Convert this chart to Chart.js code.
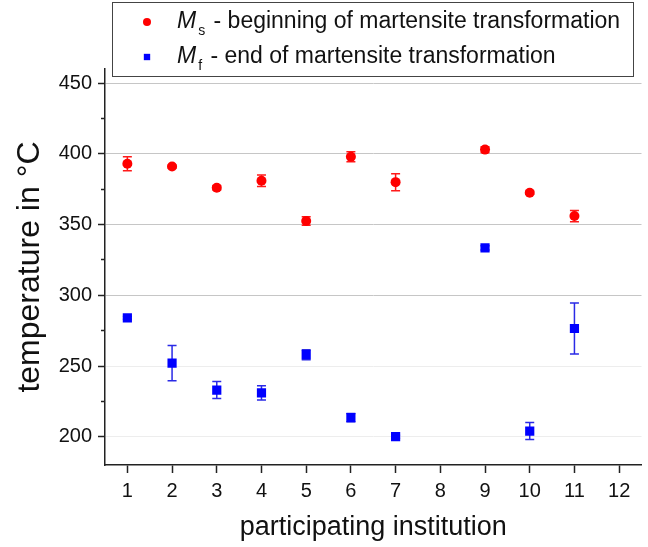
<!DOCTYPE html>
<html>
<head>
<meta charset="utf-8">
<script src="https://cdn.jsdelivr.net/npm/chart.js@4.4.1/dist/chart.umd.min.js"></script>
<style>
  html, body { margin: 0; padding: 0; background: #fff; }
</style>
</head>
<body>
<canvas id="chart" width="648" height="547"></canvas>
<script>
// values (institution 8 and 12 have no data)
const institutions = [1, 2, 3, 4, 5, 6, 7, 9, 10, 11];
const msValues = [393, 391, 376, 381, 352.5, 398, 380, 403, 372.5, 356];
const msErrors = [5, 1, 1.5, 4, 3, 3.5, 6, 2, 1, 4];
const mfValues = [284, 252, 233, 231, 258, 213.5, 200, 333.5, 204, 276.5];
const mfErrors = [1, 12.5, 6, 5, 3.5, 3, 1, 1.5, 6, 18];
const xTicks = [1, 2, 3, 4, 5, 6, 7, 8, 9, 10, 11, 12];
const yTicks = [200, 225, 250, 275, 300, 325, 350, 375, 400, 425, 450];

const FONT = '"Liberation Sans", Arial, sans-serif';

function points(values) {
  return institutions.map((x, i) => ({ x: x, y: values[i] }));
}

// error bars, drawn under the markers
const errorBars = {
  id: 'errorBars',
  beforeDatasetsDraw(chart) {
    const { ctx, scales: { x, y } } = chart;
    chart.data.datasets.forEach((ds) => {
      ctx.save();
      ctx.strokeStyle = ds.errorColor;
      ctx.lineWidth = 1.5;
      ds.data.forEach((pt, i) => {
        const e = ds.errors[i];
        const px = x.getPixelForValue(pt.x);
        const top = y.getPixelForValue(pt.y + e);
        const bot = y.getPixelForValue(pt.y - e);
        ctx.beginPath();
        ctx.moveTo(px, top); ctx.lineTo(px, bot);
        ctx.moveTo(px - 4.5, top); ctx.lineTo(px + 4.5, top);
        ctx.moveTo(px - 4.5, bot); ctx.lineTo(px + 4.5, bot);
        ctx.stroke();
      });
      ctx.restore();
    });
  }
};

// boxed legend with italic M and subscript
const legendBox = {
  id: 'legendBox',
  afterDraw(chart) {
    const ctx = chart.ctx;
    const subs = ['s', 'f'];
    const texts = [' - beginning of martensite transformation', ' - end of martensite transformation'];
    ctx.save();
    ctx.strokeStyle = '#444';
    ctx.lineWidth = 1;
    ctx.strokeRect(112.5, 2.5, 521, 74);
    chart.data.datasets.forEach((ds, i) => {
      const cy = 22 + i * 35;
      ctx.fillStyle = ds.backgroundColor;
      Chart.helpers.drawPoint(ctx, { pointStyle: ds.pointStyle, radius: ds.legendRadius, borderWidth: 0 }, 147, cy);
      ctx.fillStyle = '#111';
      ctx.textBaseline = 'middle';
      ctx.font = 'italic 23px ' + FONT;
      let tx = 177;
      ctx.fillText('M', tx, cy);
      tx += ctx.measureText('M').width + 2;
      ctx.font = '14px ' + FONT;
      ctx.fillText(subs[i], tx, cy + 9);
      tx += ctx.measureText(subs[i]).width + 2;
      ctx.font = '23px ' + FONT;
      ctx.fillText(texts[i], tx, cy);
    });
    ctx.restore();
  }
};

new Chart(document.getElementById('chart'), {
  type: 'scatter',
  data: {
    datasets: [
      {
        label: 'Ms - beginning of martensite transformation',
        data: points(msValues),
        errors: msErrors,
        errorColor: '#ff1a1a',
        pointStyle: 'circle',
        pointRadius: 5,
        legendRadius: 4,
        backgroundColor: '#ff0000',
        borderWidth: 0
      },
      {
        label: 'Mf - end of martensite transformation',
        data: points(mfValues),
        errors: mfErrors,
        errorColor: '#2a2ae6',
        pointStyle: 'rect',
        pointRadius: 6.5,
        legendRadius: 4.5,
        backgroundColor: '#0000ff',
        borderWidth: 0
      }
    ]
  },
  options: {
    responsive: false,
    animation: false,
    layout: { padding: { top: 69, right: 3, left: 8, bottom: 1 } },
    plugins: {
      legend: { display: false },
      tooltip: { enabled: false }
    },
    scales: {
      x: {
        type: 'linear',
        min: 0.5,
        max: 12.5,
        afterBuildTicks: (s) => { s.ticks = xTicks.map(v => ({ value: v })); },
        afterFit: (s) => { s.height = 81; },
        border: { color: '#222', width: 1.5 },
        grid: { drawOnChartArea: false, tickLength: 8, tickColor: '#222', tickWidth: 1.5 },
        ticks: { color: '#111', font: { family: FONT, size: 20 }, padding: 6, maxRotation: 0 },
        title: {
          display: true,
          text: 'participating institution',
          color: '#111',
          font: { family: FONT, size: 27 },
          padding: { top: 0, bottom: 2 }
        }
      },
      y: {
        min: 180,
        max: 460,
        afterBuildTicks: (s) => { s.ticks = yTicks.map(v => ({ value: v })); },
        afterFit: (s) => { s.width = 97; },
        border: { color: '#222', width: 1.5 },
        grid: {
          tickLength: 7,
          tickColor: '#222',
          tickWidth: 1.5,
          // minor ticks are shorter, kept against the axis
          tickBorderDash: (c) => (c.tick && c.tick.value % 50 !== 0 ? [0, 3, 4, 100] : []),
          color: (c) => {
            const v = c.tick ? c.tick.value : 0;
            if (v % 50 !== 0) return 'rgba(0,0,0,0)';
            return v >= 300 ? '#c6c6c6' : '#ededed';
          }
        },
        ticks: {
          color: '#111',
          font: { family: FONT, size: 20 },
          padding: 6,
          callback: (v) => (v % 50 === 0 ? v : '')
        },
        title: {
          display: true,
          text: 'temperature in °C',
          color: '#111',
          font: { family: FONT, size: 32 },
          padding: { top: 3, bottom: 0 }
        }
      }
    }
  },
  plugins: [errorBars, legendBox]
});
</script>
</body>
</html>
